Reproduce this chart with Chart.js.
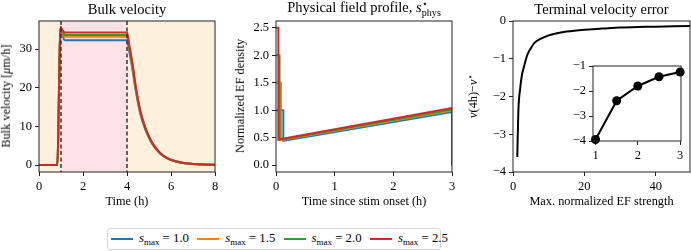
<!DOCTYPE html>
<html>
<head>
<meta charset="utf-8">
<script src="https://cdn.jsdelivr.net/npm/chart.js@4.4.1/dist/chart.umd.min.js"></script>
<style>
  body { margin: 0; width: 691px; height: 251px; overflow: hidden; position: relative; background: #fff;
         font-family: "Liberation Serif", "Times New Roman", serif; color: #000; }
  canvas { position: absolute; }
  .lbl { position: absolute; white-space: nowrap; transform: translate(-50%, -50%); line-height: 1; }
  .rot { transform: translate(-50%, -50%) rotate(-90deg); }
  .title { font-size: 14.5px; }
  .axl { font-size: 12.3px; }
  .sup { font-size: 0.7em; position: relative; top: -0.45em; }
  .sub { font-size: 0.7em; position: relative; top: 0.3em; }
  .stack { display: inline-block; vertical-align: -0.35em; font-size: 0.7em; line-height: 0.85; text-align: left; }
  .star { font-family: "DejaVu Sans", sans-serif; }
  #legend { position: absolute; left: 107px; top: 228px; width: 334px; height: 22px; box-sizing: border-box;
            border: 1px solid #d6d6d6; border-radius: 3px; font-size: 12.8px; }
  #legend .sw { position: absolute; top: 9px; width: 22px; height: 2px; }
  #legend .tx { position: absolute; top: 3px; white-space: nowrap; line-height: 1; }
</style>
</head>
<body>
<canvas id="c1" width="230" height="215" style="left:0;top:0"></canvas>
<canvas id="c2" width="245" height="215" style="left:230px;top:0"></canvas>
<canvas id="c3" width="231" height="215" style="left:460px;top:0"></canvas>
<canvas id="c4" width="131" height="110" style="left:560px;top:55px"></canvas>

<div class="lbl title" style="left:127px;top:9px">Bulk velocity</div>
<div class="lbl title" style="left:364px;top:9px">Physical field profile, <i>s</i><span class="stack"><span class="star">⋆</span><br>phys</span></div>
<div class="lbl title" style="left:601.5px;top:9px">Terminal velocity error</div>

<div class="lbl axl" style="left:127px;top:201px">Time (h)</div>
<div class="lbl axl" style="left:364px;top:201px">Time since stim onset (h)</div>
<div class="lbl axl" style="left:601.5px;top:201px">Max. normalized EF strength</div>

<div class="lbl axl rot" style="left:6px;top:96px">Bulk velocity [<i>μ</i>m/h]</div>
<div class="lbl axl rot" style="left:240px;top:96px">Normalized EF density</div>
<div class="lbl axl rot" style="left:473px;top:96px"><i>v</i>(4h)−<i>v</i><span class="sup star">⋆</span></div>

<div id="legend"></div>

<script>
// legend entries / colours
const sMax = ["1.0", "1.5", "2.0", "2.5"];
const colors = ["#1f77b4", "#ff7f0e", "#2ca02c", "#d62728"];

// panel 1: bulk velocity (um/h) vs time (h)
const stimStart = 1;
const stimEnd = 4;
const velTime = [0, 0.83, 0.98, 1.02, 1.15, 1.2, 2, 3, 4.0, 4.1, 4.25, 4.4, 4.6, 4.8, 5.0, 5.2, 5.5, 5.8, 6.2, 6.6, 7.0, 7.5, 8.0];
const velBlue   = [0, 0, 35.6, 35.0, 32.4, 32.3, 32.3, 32.3, 32.3, 29.5, 24.7, 19.2, 13.4, 9.7, 7.0, 5.0, 3.0, 1.8, 0.95, 0.5, 0.3, 0.15, 0.08];
const velOrange = [0, 0, 35.7, 35.1, 33.3, 33.2, 33.2, 33.2, 33.2, 30.3, 25.4, 19.7, 13.8, 10.0, 7.2, 5.1, 3.1, 1.85, 1.0, 0.55, 0.3, 0.15, 0.08];
const velGreen  = [0, 0, 35.7, 35.2, 33.8, 33.7, 33.7, 33.7, 33.7, 30.7, 25.8, 20.0, 14.0, 10.1, 7.3, 5.2, 3.1, 1.9, 1.0, 0.55, 0.3, 0.15, 0.08];
const velRed    = [0, 0, 35.8, 35.3, 34.4, 34.3, 34.3, 34.3, 34.3, 31.2, 26.2, 20.3, 14.2, 10.3, 7.4, 5.3, 3.2, 1.9, 1.0, 0.55, 0.3, 0.15, 0.08];

// panel 2: field profile [t, s]
const fieldBlue   = [[0, 1.0], [0.125, 1.0], [0.125, 0.445], [3, 0.97], [3, 0]];
const fieldOrange = [[0, 1.5], [0.085, 1.5], [0.085, 0.455], [3, 0.995], [3, 0]];
const fieldGreen  = [[0, 2.0], [0.06, 2.0], [0.06, 0.46], [3, 1.015], [3, 0]];
const fieldRed    = [[0, 2.5], [0.04, 2.5], [0.04, 0.465], [3, 1.04], [3, 0]];

// panel 3: terminal velocity error
const errX = [1.2, 1.5, 2, 2.5, 3, 4, 5, 6, 8, 10, 12, 15, 20, 25, 30, 35, 40, 45, 50];
const errY = [-3.6, -2.39, -1.8, -1.43, -1.24, -0.9, -0.72, -0.58, -0.46, -0.38, -0.33, -0.28, -0.23, -0.2, -0.17, -0.16, -0.15, -0.14, -0.13];
const insetX = [1, 1.5, 2, 2.5, 3];
const insetY = [-3.94, -2.39, -1.8, -1.43, -1.24];

const FONT = "Liberation Serif";
Chart.defaults.font.family = FONT;
Chart.defaults.font.size = 12.5;
Chart.defaults.color = "#000";
const minus = v => String(v).replace("-", "\u2212");

function axis(min, max, ticks, size, isY, fmt) {
  return {
    type: "linear", min: min, max: max,
    afterBuildTicks: s => { s.ticks = ticks.map(v => ({ value: v })); },
    afterFit: s => { if (isY) s.width = size; else s.height = size; },
    grid: { drawOnChartArea: false, tickLength: 4, color: "#222", tickWidth: 1 },
    border: { display: false },
    ticks: { color: "#000", autoSkip: false, maxRotation: 0, padding: 3,
             font: { family: FONT, size: 12.5 }, callback: v => fmt(v) }
  };
}

//box round every axes
const frame = {
  id: "frame",
  afterDraw(c) {
    const a = c.chartArea, ctx = c.ctx;
    ctx.save();
    ctx.strokeStyle = "#222";
    ctx.lineWidth = 1;
    ctx.strokeRect(a.left, a.top, a.right - a.left, a.bottom - a.top);
    ctx.restore();
  }
};

//shaded backgrounds and dashed stim lines for panel 1
const stim = {
  id: "stim",
  beforeDatasetsDraw(c) {
    const a = c.chartArea, ctx = c.ctx, xs = c.scales.x;
    const x1 = xs.getPixelForValue(stimStart), x2 = xs.getPixelForValue(stimEnd);
    ctx.save();
    ctx.fillStyle = "#fdf0dd";
    ctx.fillRect(a.left, a.top, a.right - a.left, a.bottom - a.top);
    ctx.fillStyle = "#fce1e6";
    ctx.fillRect(x1, a.top, x2 - x1, a.bottom - a.top);
    ctx.restore();
  },
  afterDatasetsDraw(c) {
    const a = c.chartArea, ctx = c.ctx, xs = c.scales.x;
    ctx.save();
    ctx.strokeStyle = "#333";
    ctx.lineWidth = 1.5;
    ctx.setLineDash([4, 2.5]);
    [stimStart, stimEnd].forEach(v => {
      const x = xs.getPixelForValue(v);
      ctx.beginPath();
      ctx.moveTo(x, a.top);
      ctx.lineTo(x, a.bottom);
      ctx.stroke();
    });
    ctx.restore();
  }
};

//white face for the inset
const face = {
  id: "face",
  beforeDatasetsDraw(c) {
    const a = c.chartArea, ctx = c.ctx;
    ctx.save();
    ctx.fillStyle = "#fff";
    ctx.fillRect(a.left, a.top, a.right - a.left, a.bottom - a.top);
    ctx.restore();
  }
};

const base = {
  responsive: false,
  animation: false,
  plugins: { legend: { display: false }, tooltip: { enabled: false }, title: { display: false } }
};

function drawAll() {
  const velSeries = [velBlue, velOrange, velGreen, velRed];
  new Chart(document.getElementById("c1"), {
    type: "line",
    plugins: [stim, frame],
    data: {
      datasets: velSeries.map((ys, i) => ({
        data: velTime.map((t, k) => ({ x: t, y: ys[k] })),
        borderColor: colors[i], borderWidth: 2, pointRadius: 0,
        cubicInterpolationMode: "monotone", order: 3 - i
      }))
    },
    options: Object.assign({}, base, {
      layout: { padding: { top: 21, left: 0, right: 15, bottom: 5 } },
      scales: {
        x: axis(0, 8, [0, 2, 4, 6, 8], 38, false, v => v),
        y: axis(-1.78, 37.3, [0, 10, 20, 30], 39, true, v => v)
      }
    })
  });

  const fieldSeries = [fieldBlue, fieldOrange, fieldGreen, fieldRed];
  new Chart(document.getElementById("c2"), {
    type: "line",
    plugins: [frame],
    data: {
      datasets: fieldSeries.map((pts, i) => ({
        data: pts.map(p => ({ x: p[0], y: p[1] })),
        borderColor: colors[i], borderWidth: 2, pointRadius: 0, order: 3 - i
      }))
    },
    options: Object.assign({}, base, {
      layout: { padding: { top: 21, left: 0, right: 23, bottom: 5 } },
      scales: {
        x: axis(0, 3, [0, 1, 2, 3], 38, false, v => v),
        y: axis(-0.125, 2.625, [0, 0.5, 1, 1.5, 2, 2.5], 46, true, v => v.toFixed(1))
      }
    })
  });

  new Chart(document.getElementById("c3"), {
    type: "line",
    plugins: [frame],
    data: {
      datasets: [{
        data: errX.map((x, k) => ({ x: x, y: errY[k] })),
        borderColor: "#000", borderWidth: 2, pointRadius: 0, cubicInterpolationMode: "monotone"
      }]
    },
    options: Object.assign({}, base, {
      layout: { padding: { top: 21, left: 0, right: 1, bottom: 5 } },
      scales: {
        x: axis(0, 49.6, [0, 20, 40], 38, false, v => v),
        y: axis(-4, 0, [-4, -3, -2, -1, 0], 53, true, minus)
      }
    })
  });

  new Chart(document.getElementById("c4"), {
    type: "line",
    plugins: [face, frame],
    data: {
      datasets: [{
        data: insetX.map((x, k) => ({ x: x, y: insetY[k] })),
        borderColor: "#000", backgroundColor: "#000", borderWidth: 2,
        pointRadius: 4.5, pointBorderWidth: 0, clip: false
      }]
    },
    options: Object.assign({}, base, {
      layout: { padding: { top: 11, left: 0, right: 10, bottom: 6 } },
      scales: {
        x: axis(0.94, 3.02, [1, 2, 3], 18, false, v => v),
        y: axis(-4, -1, [-4, -3, -2, -1], 33, true, minus)
      }
    })
  });
}

//html legend
const legend = document.getElementById("legend");
sMax.forEach((s, i) => {
  const x = 3 + i * 86.3;
  legend.insertAdjacentHTML("beforeend",
    `<div class="sw" style="left:${x}px;background:${colors[i]}"></div>` +
    `<div class="tx" style="left:${x + 28}px"><i>s</i><span class="sub">max</span> = ${s}</div>`);
});

//canvas text needs the serif face loaded first
document.fonts.load("12.5px 'Liberation Serif'", "0123456789.").then(drawAll, drawAll);
</script>
</body>
</html>
